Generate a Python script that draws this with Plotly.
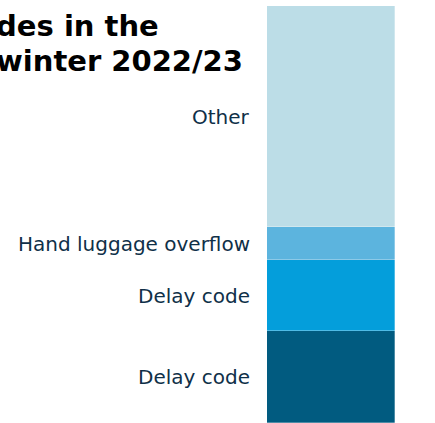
import plotly.graph_objects as go

# Stacked shares (percent), bottom to top
segments = ["Delay code", "Delay code", "Hand luggage overflow", "Other"]
shares = [22, 17, 8, 53]
colors = ["#015b80", "#049edb", "#5cb4de", "#bcdde7"]

title_lines = ["codes in the", "winter 2022/23"]

W, H = 435, 423
L, R, T, B = 267, 40, 6, 0
plot_w, plot_h = W - L - R, H - T - B

fig = go.Figure()
for name, val, col in zip(segments, shares, colors):
    fig.add_trace(go.Bar(
        x=["winter"], y=[val], name=name,
        marker=dict(color=col, line=dict(color="rgba(255,255,255,0.6)", width=0.5)),
        width=1, hoverinfo="skip",
    ))

# Labels to the left of the bar, centred on each segment
annotations = []
base = 0
for name, val in zip(segments, shares):
    annotations.append(dict(
        x=0, xref="paper", y=base + val / 2, yref="y",
        text=name, showarrow=False, xanchor="right", yanchor="middle",
        xshift=-15,
        font=dict(family="DejaVu Sans, Verdana, sans-serif", size=20, color="#0f3048"),
    ))
    base += val

# Title, two lines, running off the left edge
title_right = [161, 245]
title_base = [37, 72]
for line, xr, yb in zip(title_lines, title_right, title_base):
    annotations.append(dict(
        x=(xr - L) / plot_w, xref="paper",
        y=1 - (yb - T) / plot_h, yref="paper",
        text="<b>" + line + "</b>", showarrow=False, xanchor="right", yanchor="bottom",
        yshift=-8,
        font=dict(family="DejaVu Sans, Verdana, sans-serif", size=29, color="#000000"),
    ))

fig.update_layout(
    width=W, height=H,
    margin=dict(l=L, r=R, t=T, b=B),
    barmode="stack", bargap=0, showlegend=False,
    paper_bgcolor="white", plot_bgcolor="white",
    xaxis=dict(visible=False, range=[-0.5, 0.5]),
    yaxis=dict(visible=False, range=[0, 100]),
    annotations=annotations,
)

fig.write_html("out.html")
